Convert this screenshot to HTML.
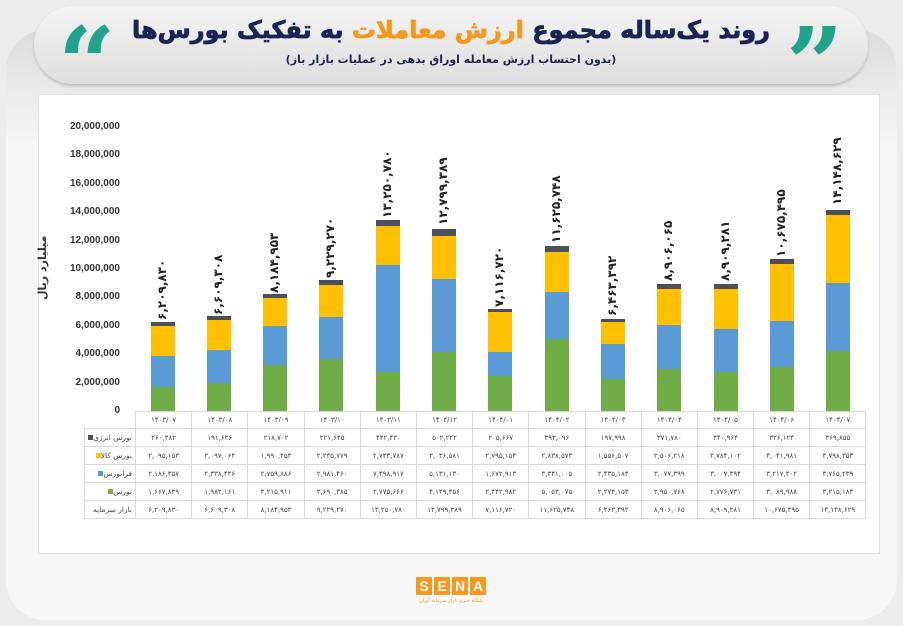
<!DOCTYPE html>
<html><head><meta charset="utf-8">
<style>
*{margin:0;padding:0;box-sizing:border-box}
body{width:903px;height:626px;overflow:hidden;background:#ececec;font-family:"Liberation Sans","Noto Sans CJK SC",sans-serif;position:relative}
.frame{position:absolute;left:6px;top:30px;width:891px;height:590px;border-radius:40px;background:linear-gradient(#dcdcdc,#f7f7f7 20%,#f7f7f7);}
.head{position:absolute;left:34px;top:6px;width:834px;height:78px;border-radius:39px;background:linear-gradient(#f4f4f4,#dedede);box-shadow:0 2px 3px #bbb;}
.title{position:absolute;left:0;width:100%;top:10px;text-align:center;font-size:24px;font-weight:bold;color:#1b2555;direction:rtl;font-family:"DejaVu Sans",sans-serif;-webkit-text-stroke:0.8px #1b2555}
.title span{color:#f39a1e;-webkit-text-stroke:0.8px #f39a1e}
.sub{position:absolute;left:0;width:100%;top:47px;text-align:center;font-size:11px;font-weight:bold;color:#1b2555;direction:rtl;font-family:"DejaVu Sans",sans-serif}
.q{position:absolute;top:8px;font-size:100px;font-weight:bold;color:#1fa38a;font-family:"DejaVu Serif",serif;line-height:1}
.card{position:absolute;left:38px;top:94px;width:842px;height:460px;background:#fff;border:1px solid #e2e2e2}
.yl{position:absolute;left:40px;width:80px;text-align:right;font-size:10px;font-weight:bold;color:#333}
.bar{position:absolute;bottom:215px;width:24px;display:flex;flex-direction:column-reverse}
.g{background:#70ad47}.b{background:#5b9bd5}.y{background:#ffc000}.d{background:#4a4f5a}
.tot{position:absolute;font-size:12px;font-weight:bold;color:#222;transform:rotate(-90deg);transform-origin:left top;white-space:nowrap;font-family:"DejaVu Sans",sans-serif}
table{position:absolute;left:84px;top:411px;border-collapse:collapse;font-size:7px;color:#444;font-family:"DejaVu Sans",sans-serif}
td{border:1px solid #d9d9d9;height:18px;width:56.2px;text-align:center}
td.l{width:51px;text-align:right;padding-right:3px;direction:rtl;font-size:7.5px}
tr.h td{height:17px}
tr.h td.l{border:none}
.sq{display:inline-block;width:5px;height:5px;margin-left:3px}
</style></head><body>
<div class="frame"></div>
<div class="head">
<div class="q" style="left:24px">“</div>
<div class="q" style="left:752px">”</div>
<div class="title">روند یک‌ساله مجموع <span>ارزش معاملات</span> به تفکیک بورس‌ها</div>
<div class="sub">(بدون احتساب ارزش معامله اوراق بدهی در عملیات بازار باز)</div>
</div>
<div class="card"></div>
<div class="yl" style="top:121px">20,000,000</div>
<div class="yl" style="top:149px">18,000,000</div>
<div class="yl" style="top:178px">16,000,000</div>
<div class="yl" style="top:206px">14,000,000</div>
<div class="yl" style="top:235px">12,000,000</div>
<div class="yl" style="top:263px">10,000,000</div>
<div class="yl" style="top:291px">8,000,000</div>
<div class="yl" style="top:320px">6,000,000</div>
<div class="yl" style="top:348px">4,000,000</div>
<div class="yl" style="top:377px">2,000,000</div>
<div class="yl" style="top:405px">0</div>
<div style="position:absolute;left:36px;top:300px;transform:rotate(-90deg);transform-origin:left top;font-size:11px;font-weight:bold;color:#333;white-space:nowrap;font-family:'DejaVu Sans',sans-serif">میلیارد ریال</div>

<div class="bar" style="left:151px"><div class="g" style="height:24px"></div><div class="b" style="height:31px"></div><div class="y" style="height:30px"></div><div class="d" style="height:4px"></div></div>
<div class="bar" style="left:207px"><div class="g" style="height:28px"></div><div class="b" style="height:33px"></div><div class="y" style="height:30px"></div><div class="d" style="height:4px"></div></div>
<div class="bar" style="left:263px"><div class="g" style="height:46px"></div><div class="b" style="height:39px"></div><div class="y" style="height:28px"></div><div class="d" style="height:4px"></div></div>
<div class="bar" style="left:319px"><div class="g" style="height:52px"></div><div class="b" style="height:42px"></div><div class="y" style="height:32px"></div><div class="d" style="height:5px"></div></div>
<div class="bar" style="left:376px"><div class="g" style="height:39px"></div><div class="b" style="height:107px"></div><div class="y" style="height:39px"></div><div class="d" style="height:6px"></div></div>
<div class="bar" style="left:432px"><div class="g" style="height:59px"></div><div class="b" style="height:73px"></div><div class="y" style="height:43px"></div><div class="d" style="height:7px"></div></div>
<div class="bar" style="left:488px"><div class="g" style="height:35px"></div><div class="b" style="height:24px"></div><div class="y" style="height:40px"></div><div class="d" style="height:3px"></div></div>
<div class="bar" style="left:545px"><div class="g" style="height:72px"></div><div class="b" style="height:47px"></div><div class="y" style="height:40px"></div><div class="d" style="height:6px"></div></div>
<div class="bar" style="left:601px"><div class="g" style="height:32px"></div><div class="b" style="height:35px"></div><div class="y" style="height:22px"></div><div class="d" style="height:3px"></div></div>
<div class="bar" style="left:657px"><div class="g" style="height:42px"></div><div class="b" style="height:44px"></div><div class="y" style="height:36px"></div><div class="d" style="height:5px"></div></div>
<div class="bar" style="left:714px"><div class="g" style="height:39px"></div><div class="b" style="height:43px"></div><div class="y" style="height:40px"></div><div class="d" style="height:5px"></div></div>
<div class="bar" style="left:770px"><div class="g" style="height:44px"></div><div class="b" style="height:46px"></div><div class="y" style="height:57px"></div><div class="d" style="height:5px"></div></div>
<div class="bar" style="left:826px"><div class="g" style="height:60px"></div><div class="b" style="height:68px"></div><div class="y" style="height:68px"></div><div class="d" style="height:5px"></div></div>

<div class="tot" style="left:155px;top:320px">۶,۲۰۹,۸۳۰</div>
<div class="tot" style="left:211px;top:315px">۶,۶۰۹,۳۰۸</div>
<div class="tot" style="left:267px;top:293px">۸,۱۸۴,۹۵۳</div>
<div class="tot" style="left:323px;top:278px">۹,۲۲۹,۲۷۰</div>
<div class="tot" style="left:380px;top:218px">۱۳,۲۵۰,۷۸۰</div>
<div class="tot" style="left:436px;top:225px">۱۲,۷۹۹,۳۸۹</div>
<div class="tot" style="left:492px;top:307px">۷,۱۱۶,۷۲۰</div>
<div class="tot" style="left:549px;top:243px">۱۱,۶۲۵,۷۴۸</div>
<div class="tot" style="left:605px;top:316px">۶,۴۶۳,۳۹۲</div>
<div class="tot" style="left:661px;top:281px">۸,۹۰۶,۰۶۵</div>
<div class="tot" style="left:718px;top:281px">۸,۹۰۹,۲۸۱</div>
<div class="tot" style="left:774px;top:257px">۱۰,۶۷۵,۴۹۵</div>
<div class="tot" style="left:830px;top:205px">۱۴,۱۴۸,۶۲۹</div>

<table>
<tr class="h"><td class="l"></td><td>۱۴۰۳/۰۷</td><td>۱۴۰۳/۰۸</td><td>۱۴۰۳/۰۹</td><td>۱۴۰۳/۱۰</td><td>۱۴۰۳/۱۱</td><td>۱۴۰۳/۱۲</td><td>۱۴۰۴/۰۱</td><td>۱۴۰۴/۰۲</td><td>۱۴۰۴/۰۳</td><td>۱۴۰۴/۰۴</td><td>۱۴۰۴/۰۵</td><td>۱۴۰۴/۰۶</td><td>۱۴۰۴/۰۷</td></tr>
<tr><td class="l">بورس انرژی<span class="sq d"></span></td><td>۲۶۰,۴۸۲</td><td>۱۹۱,۶۳۶</td><td>۲۱۸,۷۰۲</td><td>۳۲۱,۶۴۵</td><td>۴۴۲,۴۳۰</td><td>۵۰۲,۲۲۲</td><td>۲۰۵,۶۶۷</td><td>۳۹۳,۰۹۶</td><td>۱۹۷,۹۹۸</td><td>۳۷۱,۷۸۰</td><td>۳۴۰,۹۶۴</td><td>۳۲۶,۱۲۴</td><td>۳۶۹,۸۵۵</td></tr>
<tr><td class="l">بورس کالا<span class="sq y"></span></td><td>۲,۰۹۵,۱۵۳</td><td>۲,۰۹۷,۰۶۴</td><td>۱,۹۹۰,۴۵۴</td><td>۲,۲۳۵,۷۷۹</td><td>۲,۷۳۳,۷۸۷</td><td>۳,۰۳۶,۵۸۱</td><td>۲,۷۹۵,۱۵۴</td><td>۲,۸۳۸,۵۷۳</td><td>۱,۵۵۶,۵۰۷</td><td>۲,۵۰۶,۲۱۸</td><td>۲,۷۸۴,۱۰۲</td><td>۴,۰۴۱,۹۸۱</td><td>۴,۷۹۸,۳۵۳</td></tr>
<tr><td class="l">فرابورس<span class="sq b"></span></td><td>۲,۱۸۶,۳۵۷</td><td>۲,۳۳۸,۴۴۶</td><td>۲,۷۵۹,۸۸۶</td><td>۲,۹۸۱,۴۶۰</td><td>۷,۴۹۸,۹۱۷</td><td>۵,۱۳۱,۱۳۰</td><td>۱,۶۷۲,۹۱۳</td><td>۳,۳۴۱,۰۰۵</td><td>۲,۴۳۵,۱۸۴</td><td>۳,۰۷۷,۳۹۹</td><td>۳,۰۰۷,۴۹۴</td><td>۳,۲۱۷,۴۰۲</td><td>۴,۷۶۵,۲۳۹</td></tr>
<tr><td class="l">بورس<span class="sq g"></span></td><td>۱,۶۶۷,۸۳۹</td><td>۱,۹۸۲,۱۶۱</td><td>۳,۲۱۵,۹۱۱</td><td>۳,۶۹۰,۳۸۵</td><td>۲,۷۷۵,۶۶۶</td><td>۴,۱۲۹,۴۵۶</td><td>۲,۴۴۲,۹۸۲</td><td>۵,۰۵۳,۰۷۵</td><td>۲,۲۷۴,۱۵۳</td><td>۲,۹۵۰,۷۶۸</td><td>۲,۷۷۶,۷۳۱</td><td>۳,۰۸۹,۹۸۸</td><td>۴,۲۱۵,۱۸۳</td></tr>
<tr><td class="l">بازار سرمایه</td><td>۶,۲۰۹,۸۳۰</td><td>۶,۶۰۹,۳۰۸</td><td>۸,۱۸۴,۹۵۳</td><td>۹,۲۲۹,۲۷۰</td><td>۱۳,۲۵۰,۷۸۰</td><td>۱۲,۷۹۹,۳۸۹</td><td>۷,۱۱۶,۷۲۰</td><td>۱۱,۶۲۵,۷۴۸</td><td>۶,۴۶۳,۳۹۲</td><td>۸,۹۰۶,۰۶۵</td><td>۸,۹۰۹,۲۸۱</td><td>۱۰,۶۷۵,۴۹۵</td><td>۱۴,۱۴۸,۶۲۹</td></tr>
</table>

<div style="position:absolute;left:416px;top:577px;display:flex;gap:2px">
<div style="width:16px;height:18px;background:#f39a1e;color:#fff;font-weight:bold;font-size:14px;text-align:center;line-height:18px">S</div>
<div style="width:16px;height:18px;background:#f39a1e;color:#fff;font-weight:bold;font-size:14px;text-align:center;line-height:18px">E</div>
<div style="width:16px;height:18px;background:#f39a1e;color:#fff;font-weight:bold;font-size:14px;text-align:center;line-height:18px">N</div>
<div style="width:16px;height:18px;background:#f39a1e;color:#fff;font-weight:bold;font-size:14px;text-align:center;line-height:18px">A</div>
</div>
<div style="position:absolute;left:406px;top:598px;width:90px;text-align:center;font-size:5px;color:#f39a1e;font-family:'DejaVu Sans',sans-serif">پایگاه خبری بازار سرمایه ایران</div>
</body></html>
